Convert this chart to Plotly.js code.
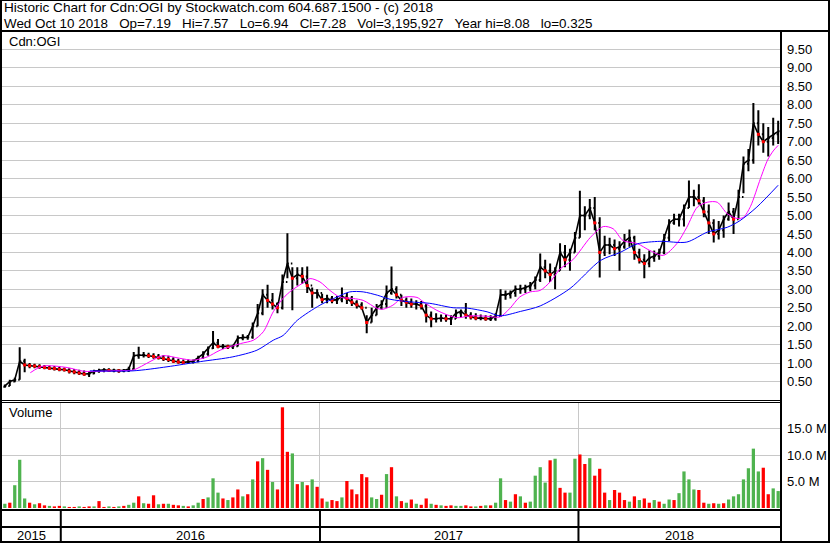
<!DOCTYPE html>
<html><head><meta charset="utf-8">
<script src="https://cdn.plot.ly/plotly-3.0.1.min.js"></script>
<style>html,body{margin:0;padding:0;background:#fff;}#chart{width:830px;height:543px;}</style>
</head><body><div id="chart"></div>
<script>
// ---------- data (weekly samples) ----------
const firstWeek = '2015-10-14';
const highs = [0.42,0.55,0.6,1.43,1.12,1.0,0.98,0.97,0.95,0.93,0.92,0.9,0.88,0.86,0.84,0.82,0.8,0.78,0.82,0.85,
0.86,0.86,0.85,0.84,0.84,0.9,1.3,1.44,1.3,1.28,1.27,1.25,1.22,1.2,1.16,1.12,1.1,1.1,1.1,1.2,
1.32,1.45,1.87,1.65,1.52,1.5,1.5,1.75,1.78,1.76,2.1,2.6,3.0,3.12,2.9,2.65,3.4,4.52,3.6,3.6,
3.6,3.62,3.05,3.0,2.88,2.85,2.82,2.82,3.05,2.9,2.82,2.7,2.65,2.3,2.5,2.6,2.7,3.1,3.62,3.08,
2.85,2.78,2.75,2.7,2.68,2.6,2.4,2.35,2.32,2.32,2.3,2.45,2.45,2.63,2.38,2.35,2.32,2.3,2.3,2.35,
3.0,2.97,2.97,3.1,3.12,3.12,3.2,3.35,3.97,3.8,3.7,3.6,4.25,4.2,4.1,4.55,5.67,5.25,5.45,5.5,
4.95,4.45,4.4,4.35,4.3,4.5,4.62,4.45,4.1,3.95,4.05,4.05,4.1,4.5,4.9,5.05,5.05,5.3,5.95,5.7,
5.85,5.5,5.3,4.9,4.85,5.0,5.35,5.2,5.7,6.6,6.8,8.05,7.85,7.5,7.4,7.65,7.57];
const lows = [0.33,0.38,0.48,0.55,0.75,0.86,0.86,0.85,0.83,0.82,0.8,0.78,0.77,0.72,0.7,0.68,0.66,0.62,0.7,0.74,
0.75,0.76,0.75,0.74,0.75,0.76,0.83,1.12,1.15,1.14,1.12,1.1,1.06,1.03,1.0,0.98,0.98,0.98,0.99,1.02,
1.12,1.2,1.38,1.4,1.38,1.38,1.38,1.45,1.62,1.63,1.66,2.0,2.3,2.5,2.45,2.35,2.45,3.3,2.43,3.1,
3.15,2.9,2.5,2.75,2.62,2.62,2.62,2.6,2.65,2.6,2.55,2.48,2.45,1.81,2.1,2.3,2.45,2.5,2.85,2.75,
2.55,2.5,2.5,2.45,2.45,2.1,1.97,2.1,2.12,2.12,2.03,2.2,2.25,2.2,2.18,2.16,2.16,2.15,2.14,2.15,
2.25,2.72,2.75,2.8,2.88,2.9,2.95,3.0,3.2,3.3,3.2,3.0,3.5,3.6,3.5,4.0,4.4,4.6,4.9,4.6,
3.32,3.9,3.95,3.9,3.5,4.1,4.15,3.8,3.7,3.3,3.6,3.75,3.8,3.95,4.3,4.75,4.7,4.7,5.2,5.25,
5.3,4.95,4.5,4.27,4.35,4.4,4.86,4.5,4.9,5.6,6.2,6.4,6.9,6.7,6.6,6.9,6.94];
const closes = [0.38,0.5,0.55,1.05,0.95,0.93,0.92,0.9,0.88,0.86,0.85,0.83,0.82,0.78,0.76,0.73,0.7,0.72,0.78,0.8,
0.82,0.8,0.8,0.79,0.8,0.84,1.2,1.22,1.22,1.2,1.18,1.15,1.12,1.1,1.05,1.03,1.02,1.03,1.05,1.15,
1.25,1.4,1.55,1.45,1.45,1.44,1.46,1.68,1.7,1.7,2.0,2.35,2.85,2.7,2.6,2.5,3.2,3.7,3.3,3.4,
3.35,3.1,2.9,2.9,2.72,2.75,2.7,2.72,2.8,2.75,2.65,2.58,2.5,2.1,2.3,2.5,2.6,2.9,3.0,2.85,
2.7,2.65,2.6,2.6,2.55,2.3,2.2,2.2,2.22,2.2,2.2,2.35,2.4,2.3,2.25,2.22,2.22,2.2,2.2,2.28,
2.85,2.85,2.9,3.0,3.0,3.05,3.1,3.25,3.6,3.5,3.4,3.5,4.0,3.8,4.0,4.4,5.0,5.0,5.2,4.8,
4.0,4.2,4.2,4.1,4.15,4.3,4.4,4.0,3.8,3.7,3.85,3.9,4.0,4.4,4.8,4.9,4.9,5.2,5.5,5.5,
5.4,5.1,4.8,4.5,4.6,4.9,5.1,4.9,5.5,6.4,6.5,7.5,7.2,7.0,7.1,7.2,7.28];
const firstOpen = 0.36;
const volumesM = [0.8,1.0,4.3,9.1,1.8,1.0,0.7,0.9,0.5,0.4,0.3,0.4,0.3,0.2,0.2,0.3,0.2,0.3,0.3,1.3,
0.2,0.3,0.2,0.3,0.4,0.6,1.0,2.2,0.9,0.8,2.4,0.7,0.8,0.8,0.6,0.5,0.4,0.3,0.5,1.0,
1.7,2.0,5.6,2.9,1.8,1.5,2.0,3.5,2.2,2.6,5.4,8.8,9.4,7.2,4.9,3.5,19.0,10.6,10.3,4.5,
4.9,4.3,5.4,4.0,1.8,1.2,1.5,1.3,2.0,5.1,3.5,2.6,6.4,5.8,2.0,1.7,2.5,6.4,7.7,2.2,
1.3,1.0,1.6,0.8,0.6,1.8,0.8,0.6,0.5,0.4,0.5,0.4,0.4,0.5,0.3,0.3,0.4,0.5,0.5,1.0,
5.6,1.5,1.2,2.6,2.2,1.0,1.2,6.1,7.7,4.8,9.0,9.3,3.8,2.9,2.9,9.3,10.1,8.3,9.4,6.1,
7.4,2.9,1.5,3.4,2.9,1.5,1.2,2.2,1.5,1.8,1.0,1.5,1.2,0.8,1.6,1.5,2.8,6.9,5.4,3.5,
3.4,1.0,0.8,0.9,0.8,0.9,1.6,2.2,2.6,5.4,7.5,11.2,6.9,7.6,2.6,3.7,3.2];
// colour of the dominant volume bar in each week: u = up (green), d = down (red)
const volumeDirection = ('uduuududdu' + 'ddudduddud' + 'dududuudud' + 'dududduduu' + 'duuududdud' +
  'udududddud' + 'ududduddud' + 'dddduududu' + 'dududdudud' + 'duuddududu' +
  'udududuuuu' + 'dudduuddud' + 'ddudddudud' + 'duduuduuuu' + 'ddududuuuu' + 'uuudduu').split('');
const shortMaDates = ['2015-11-19','2015-12-07','2016-01-10','2016-02-02','2016-02-25','2016-03-24','2016-04-12','2016-05-06','2016-05-24','2016-06-17',
'2016-07-06','2016-07-26','2016-08-13','2016-09-11','2016-09-29','2016-10-13','2016-10-27','2016-11-10','2016-11-22','2016-12-07',
'2016-12-18','2017-01-01','2017-01-15','2017-01-29','2017-02-17','2017-03-03','2017-03-23','2017-03-31','2017-04-14','2017-04-28',
'2017-05-18','2017-05-27','2017-06-15','2017-07-13','2017-08-01','2017-08-25','2017-09-12','2017-09-26','2017-10-10','2017-10-25',
'2017-11-08','2017-11-22','2017-12-06','2017-12-24','2018-01-18','2018-02-05','2018-02-19','2018-03-05','2018-03-25','2018-04-12',
'2018-05-01','2018-05-20','2018-06-03','2018-06-18','2018-07-02','2018-07-16','2018-07-30','2018-08-13','2018-08-22','2018-09-01',
'2018-09-15','2018-09-25','2018-10-03','2018-10-10'];
const shortMa = [0.74,0.92,0.88,0.78,0.78,0.8,0.81,1.04,1.2,1.13,
1.08,1.17,1.35,1.53,1.62,1.85,2.39,2.76,2.97,3.16,
3.29,3.2,2.97,2.79,2.75,2.7,2.48,2.46,2.57,2.78,
2.78,2.66,2.43,2.23,2.28,2.27,2.25,2.48,2.79,2.93,
2.97,3.2,3.55,3.8,4.41,4.7,4.64,4.32,4.24,4.05,
3.92,4.24,4.68,5.23,5.36,5.36,5.05,4.92,4.95,5.25,
6.0,6.5,6.75,6.9];
const longMaDates = ['2016-02-11','2016-04-12','2016-05-30','2016-07-16','2016-08-31','2016-10-04','2016-10-27','2016-11-10','2016-11-30','2017-01-01',
'2017-01-25','2017-02-12','2017-03-03','2017-03-23','2017-04-10','2017-05-08','2017-06-05','2017-07-08','2017-07-28','2017-08-25',
'2017-09-12','2017-10-11','2017-11-08','2017-12-20','2018-02-01','2018-03-01','2018-03-25','2018-04-26','2018-06-03','2018-07-02',
'2018-07-30','2018-08-17','2018-09-10','2018-10-10'];
const longMa = [0.79,0.79,0.9,1.04,1.17,1.35,1.62,1.75,2.16,2.57,
2.79,2.93,2.93,2.84,2.73,2.66,2.62,2.5,2.49,2.39,
2.28,2.4,2.55,3.02,3.78,4.0,4.23,4.3,4.28,4.55,
4.68,4.86,5.23,5.82];
const yearLabels = ['2015','2016','2017','2018'];
const yearStarts = ['2015-01-01','2016-01-01','2017-01-01','2018-01-01','2019-01-01'];
const priceTicks = [0.5,1,1.5,2,2.5,3,3.5,4,4.5,5,5.5,6,6.5,7,7.5,8,8.5,9,9.5];
const volumeTicks = [5e6,10e6,15e6];
const volumeTickText = ['5.0 M','10.0 M','15.0 M'];
const xRange = ['2015-10-10','2018-10-14'];
const GAP = '\u00a0\u00a0\u00a0';
const titleLine1 = 'Historic Chart for Cdn:OGI by Stockwatch.com 604.687.1500 - (c) 2018';
const titleLine2 = ['Wed Oct 10 2018','Op=7.19','Hi=7.57','Lo=6.94','Cl=7.28','Vol=3,195,927','Year hi=8.08','lo=0.325'].join(GAP);
const symbolLabel = 'Cdn:OGI';
const volumeLabel = 'Volume';

// ---------- build ----------
const DAY = 864e5;
const t0 = Date.parse(firstWeek + 'T00:00:00Z');
const weekDates = closes.map((_, i) => new Date(t0 + i * 7 * DAY).toISOString().slice(0, 10));
const opens = closes.map((c, i) => i === 0 ? firstOpen : closes[i - 1]);
const downIdx = closes.map((c, i) => c < opens[i] ? i : -1).filter(i => i >= 0);
const GREEN = '#4fb34f', RED = '#ff0000';
const volColors = volumeDirection.map(d => d === 'u' ? GREEN : RED);

const W = 830, H = 543;
const px = x => x / W, py = y => 1 - y / H;
const FONT = 'Liberation Sans, Arial, sans-serif';
const hline = (x0, x1, y, w) => ({type:'line', xref:'paper', yref:'paper', x0:px(x0), x1:px(x1), y0:py(y), y1:py(y), line:{color:'#000', width:w}});
const vline = (x, y0, y1, w) => ({type:'line', xref:'paper', yref:'paper', x0:px(x), x1:px(x), y0:py(y0), y1:py(y1), line:{color:'#000', width:w}});

const traces = [
  {type:'ohlc', x:weekDates, open:opens, high:highs, low:lows, close:closes,
   increasing:{line:{color:'#000', width:2}}, decreasing:{line:{color:'#000', width:2}},
   tickwidth:0.3, xaxis:'x', yaxis:'y', hoverinfo:'skip'},
  {type:'scatter', mode:'lines', x:weekDates, y:closes, line:{color:'#000', width:1.6}, xaxis:'x', yaxis:'y', hoverinfo:'skip'},
  {type:'scatter', mode:'markers', x:downIdx.map(i => weekDates[i]), y:downIdx.map(i => closes[i]),
   marker:{color:RED, size:3, symbol:'square'}, xaxis:'x', yaxis:'y', hoverinfo:'skip'},
  {type:'scatter', mode:'lines', x:shortMaDates, y:shortMa, line:{color:'#ff00ff', width:1, shape:'spline', smoothing:0.8}, xaxis:'x', yaxis:'y', hoverinfo:'skip'},
  {type:'scatter', mode:'lines', x:longMaDates, y:longMa, line:{color:'#0000ff', width:1, shape:'spline', smoothing:0.8}, xaxis:'x', yaxis:'y', hoverinfo:'skip'},
  {type:'bar', x:weekDates, y:volumesM.map(v => v * 1e6), marker:{color:volColors, line:{width:0}},
   width:4.6 * DAY, xaxis:'x2', yaxis:'y2', hoverinfo:'skip'}
];

// year segments
const rs = Date.parse(xRange[0] + 'T00:00:00Z'), re = Date.parse(xRange[1] + 'T00:00:00Z');
const yearAnn = yearLabels.map((lab, i) => {
  const a = Math.max(rs, Date.parse(yearStarts[i] + 'T00:00:00Z'));
  const b = Math.min(re, Date.parse(yearStarts[i + 1] + 'T00:00:00Z'));
  return {xref:'x2', yref:'paper', x:new Date((a + b) / 2).toISOString().slice(0, 10), y:py(535),
    text:lab, showarrow:false, xanchor:'center', yanchor:'middle', font:{family:FONT, size:13, color:'#000'}};
});
const yearLines = yearStarts.filter(d => { const t = Date.parse(d + 'T00:00:00Z'); return t > rs && t < re; })
  .map(d => ({type:'line', xref:'x2', yref:'paper', x0:d, x1:d, y0:py(509), y1:py(543), line:{color:'#000', width:2}}));

const layout = {
  width:W, height:H, margin:{l:0, r:0, t:0, b:0}, paper_bgcolor:'#fff', plot_bgcolor:'#fff', showlegend:false,
  font:{family:FONT, size:13, color:'#000'},
  xaxis:{domain:[px(2), px(781)], range:xRange, type:'date', showgrid:false, zeroline:false, showticklabels:false,
    ticks:'', showline:false, anchor:'y', rangeslider:{visible:false}, fixedrange:true},
  yaxis:{domain:[py(400), py(31)], range:[0, 10], side:'right', tickvals:priceTicks, ticktext:priceTicks.map(v => v.toFixed(2)),
    showgrid:true, gridcolor:'#c8c8c8', gridwidth:1, zeroline:false, showline:false, ticks:'', ticklabelstandoff:5,
    tickfont:{family:FONT, size:13, color:'#000'}, anchor:'x', fixedrange:true},
  xaxis2:{domain:[px(2), px(781)], range:xRange, type:'date', tickvals:yearStarts.slice(1, 4), showgrid:true, gridcolor:'#c8c8c8',
    zeroline:false, showticklabels:false, ticks:'', showline:false, anchor:'y2', fixedrange:true},
  yaxis2:{domain:[py(508), py(402)], range:[0, 20e6], side:'right', tickvals:volumeTicks, ticktext:volumeTickText,
    showgrid:true, gridcolor:'#c8c8c8', gridwidth:1, zeroline:false, showline:false, ticks:'', ticklabelstandoff:5,
    tickfont:{family:FONT, size:13, color:'#000'}, anchor:'x2', fixedrange:true},
  shapes:[
    hline(0, 830, 0.5, 1), vline(1, 0, 543, 2), vline(829, 0, 543, 2), hline(0, 830, 542, 2),
    hline(0, 830, 31, 2), vline(781, 31, 543, 2),
    hline(0, 781, 400.5, 1), hline(0, 781, 402.5, 1),
    hline(0, 781, 510, 2), hline(0, 781, 527, 2)
  ].concat(yearLines),
  annotations:[
    {xref:'paper', yref:'paper', x:px(2), y:py(8), text:titleLine1, showarrow:false, xanchor:'left', yanchor:'middle', font:{family:FONT, size:13.6, color:'#000'}},
    {xref:'paper', yref:'paper', x:px(2), y:py(23), text:titleLine2, showarrow:false, xanchor:'left', yanchor:'middle', font:{family:FONT, size:13.4, color:'#000'}},
    {xref:'paper', yref:'paper', x:px(7), y:py(41), text:symbolLabel, showarrow:false, xanchor:'left', yanchor:'middle', font:{family:FONT, size:13, color:'#000'}},
    {xref:'paper', yref:'paper', x:px(7), y:py(413), text:volumeLabel, showarrow:false, xanchor:'left', yanchor:'middle', font:{family:FONT, size:13, color:'#000'}}
  ].concat(yearAnn)
};

Plotly.newPlot('chart', traces, layout, {staticPlot:true, displayModeBar:false});
</script></body></html>
